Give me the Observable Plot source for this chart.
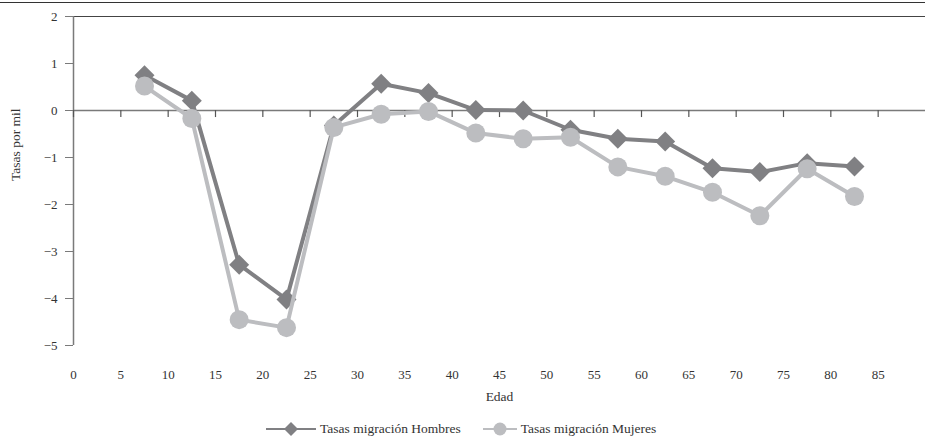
<!DOCTYPE html>
<html>
<head>
<meta charset="utf-8">
<script src="https://cdn.jsdelivr.net/npm/d3@7"></script>
<script src="https://cdn.jsdelivr.net/npm/@observablehq/plot@0.6"></script>
<style>
  html, body { margin: 0; padding: 0; background: #fff; }
  #wrap { position: relative; width: 925px; height: 441px; font-family: 'Liberation Serif', 'Times New Roman', serif; color: #333; }
  #topline { position: absolute; left: 0; top: 2px; width: 925px; height: 0; border-top: 1.5px solid #333; }
  #chart { position: absolute; left: 0; top: 0; }
  #legend { position: absolute; left: 266px; top: 419px; display: flex; align-items: center; font-size: 13.5px; color: #333; font-family: 'Liberation Serif', 'Times New Roman', serif; }
  #legend .item { display: flex; align-items: center; margin-right: 22px; }
  #legend svg { margin-right: 4px; }
  #chart svg, #chart svg text { font-family: 'Liberation Serif', 'Times New Roman', serif !important; }
</style>
</head>
<body>
<div id="wrap">
  <div id="chart"></div>
  <div id="topline"></div>
  <div id="legend"></div>
</div>
<script>
const edad = [7.5, 12.5, 17.5, 22.5, 27.5, 32.5, 37.5, 42.5, 47.5, 52.5, 57.5, 62.5, 67.5, 72.5, 77.5, 82.5];
const hombres = [0.75, 0.21, -3.28, -4.02, -0.32, 0.57, 0.37, 0.01, 0.0, -0.41, -0.6, -0.66, -1.23, -1.31, -1.12, -1.19];
const mujeres = [0.52, -0.17, -4.45, -4.62, -0.36, -0.08, -0.02, -0.48, -0.6, -0.57, -1.2, -1.4, -1.74, -2.24, -1.24, -1.83];
const xTicks = [0, 5, 10, 15, 20, 25, 30, 35, 40, 45, 50, 55, 60, 65, 70, 75, 80, 85];
const yTicks = [-5, -4, -3, -2, -1, 0, 1, 2];
const seriesNames = ["Tasas migración Hombres", "Tasas migración Mujeres"];
const colH = "#808083";
const colM = "#bcbdc0";
const axisCol = "#7a7a7a";

const dataH = edad.map((e, i) => ({edad: e, v: hombres[i]}));
const dataM = edad.map((e, i) => ({edad: e, v: mujeres[i]}));
const fmtY = d => d < 0 ? "\u2212" + Math.abs(d) : String(d);

const chart = Plot.plot({
  width: 925,
  height: 412,
  marginLeft: 73,
  marginRight: 0,
  marginTop: 16,
  marginBottom: 67,
  style: {fontFamily: "'Liberation Serif', 'Times New Roman', serif", fontSize: "13px", color: "#333", background: "transparent"},
  x: {domain: [0, 90]},
  y: {domain: [-5, 2]},
  marks: [
    Plot.ruleY([2], {stroke: "#444", strokeWidth: 1.2}),
    Plot.ruleY([0], {stroke: axisCol, strokeWidth: 1.5}),
    Plot.ruleX([0], {y1: -5, y2: 2, stroke: axisCol, strokeWidth: 1.5}),
    Plot.ruleX(xTicks, {x: d => d, y1: 0, y2: -0.15, stroke: "#555", strokeWidth: 1.2}),
    Plot.axisY({ticks: yTicks, tickSize: 8, tickPadding: 8, tickFormat: fmtY, label: null, stroke: axisCol, fontSize: 13}),
    Plot.axisX({ticks: xTicks, tickSize: 0, tickPadding: 24, tickFormat: d => String(d), label: null, fontSize: 13}),
    Plot.text(["Edad"], {frameAnchor: "bottom", dy: 55, fontSize: 13.5, fill: "#333"}),
    Plot.text(["Tasas por mil"], {frameAnchor: "left", rotate: -90, dx: -58, fontSize: 13.5, fill: "#333"}),
    Plot.line(dataH, {x: "edad", y: "v", stroke: colH, strokeWidth: 4}),
    Plot.dot(dataH, {x: "edad", y: "v", symbol: "diamond2", r: 9, fill: colH, stroke: "none"}),
    Plot.line(dataM, {x: "edad", y: "v", stroke: colM, strokeWidth: 4}),
    Plot.dot(dataM, {x: "edad", y: "v", symbol: "circle", r: 9.5, fill: colM, stroke: "none"})
  ]
});
chart.setAttribute("font-family", "'Liberation Serif', 'Times New Roman', serif");
document.getElementById("chart").appendChild(chart);

const legend = document.getElementById("legend");
const symbols = [
  `<svg width="50" height="20"><line x1="0" y1="10" x2="50" y2="10" stroke="${colH}" stroke-width="2"/><path d="M25,3 L32,10 L25,17 L18,10 Z" fill="${colH}"/></svg>`,
  `<svg width="34" height="20"><line x1="0" y1="10" x2="34" y2="10" stroke="${colM}" stroke-width="2"/><circle cx="17" cy="10" r="6.5" fill="${colM}"/></svg>`
];
seriesNames.forEach((name, i) => {
  const item = document.createElement("div");
  item.className = "item";
  item.innerHTML = symbols[i] + `<span>${name}</span>`;
  legend.appendChild(item);
});
</script>
</body>
</html>
